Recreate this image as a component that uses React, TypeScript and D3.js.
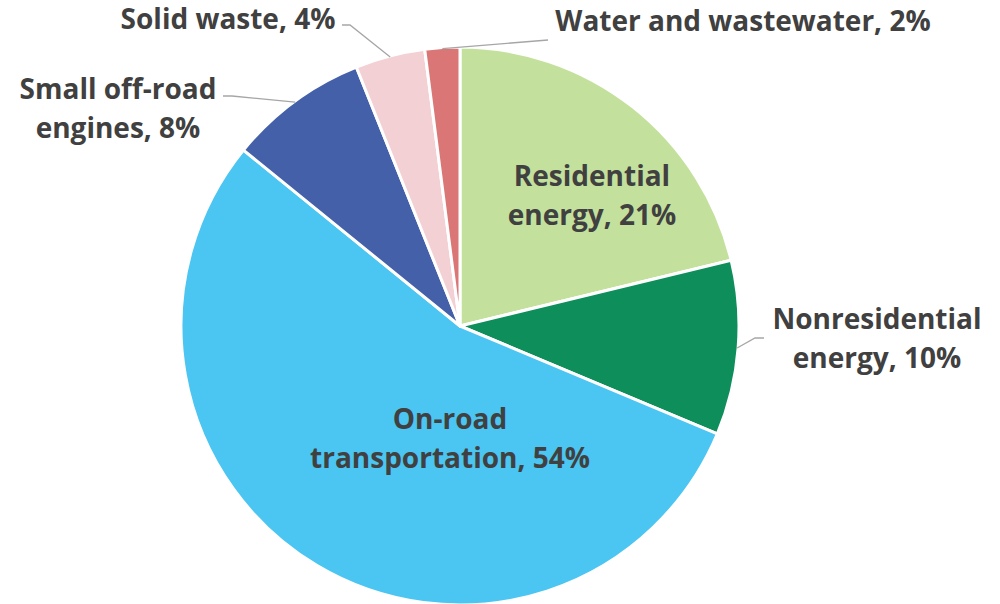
import { useEffect, useRef } from "react";
import * as d3 from "d3";

const categories = [
  "Residential energy",
  "Nonresidential energy",
  "On-road transportation",
  "Small off-road engines",
  "Solid waste",
  "Water and wastewater",
];
const shares = [21, 10, 54, 8, 4, 2];
const colors = ["#c3e19d", "#0e8e5a", "#4bc5f1", "#4360a8", "#f3d0d3", "#db7676"];

const labelLines = [
  ["Residential", "energy, 21%"],
  ["Nonresidential", "energy, 10%"],
  ["On-road", "transportation, 54%"],
  ["Small off-road", "engines, 8%"],
  ["Solid waste, 4%"],
  ["Water and wastewater, 2%"],
];
const labelPos: [number, number][] = [
  [592, 175],
  [877, 318],
  [450, 418],
  [118, 88],
  [228, 18],
  [743, 20],
];
// leader: [elbow x, elbow y, end x] (null = label sits inside its slice)
const leaders: ([number, number, number] | null)[] = [
  null,
  [755, 338, 764],
  null,
  [232, 96, 223],
  [350, 25, 342],
  [548, 40, 548],
];

export default function App() {
  const svgRef = useRef<SVGSVGElement>(null);

  useEffect(() => {
    if (!svgRef.current) return;
    const svg = d3.select(svgRef.current);
    svg.selectAll("*").remove();

    const cx = 460;
    const cy = 326;
    const r = 279;

    const pie = d3
      .pie<number>()
      .sort(null)
      .value((d) => d);
    const arcs = pie(shares);
    const arc = d3.arc<d3.PieArcDatum<number>>().innerRadius(0).outerRadius(r);

    const g = svg.append("g").attr("transform", `translate(${cx},${cy})`);

    g.selectAll("path")
      .data(arcs)
      .enter()
      .append("path")
      .attr("d", arc)
      .attr("fill", (d, i) => colors[i])
      .attr("stroke", "#fff")
      .attr("stroke-width", 3)
      .attr("stroke-linejoin", "round");

    // leader lines
    arcs.forEach((a, i) => {
      const l = leaders[i];
      if (!l) return;
      const mid = (a.startAngle + a.endAngle) / 2;
      const sx = cx + Math.sin(mid) * (r - 1);
      const sy = cy - Math.cos(mid) * (r - 1);
      svg
        .append("polyline")
        .attr("points", `${sx},${sy} ${l[0]},${l[1]} ${l[2]},${l[1]}`)
        .attr("fill", "none")
        .attr("stroke", "#a6a6a6")
        .attr("stroke-width", 1.3);
    });

    // labels
    categories.forEach((c, i) => {
      const [x, y] = labelPos[i];
      const t = svg
        .append("text")
        .attr("x", x)
        .attr("y", y)
        .attr("text-anchor", "middle")
        .attr("dominant-baseline", "central")
        .style("font-family", "'Open Sans', sans-serif")
        .style("font-weight", 700)
        .style("font-size", "28px")
        .style("fill", "#404040")
        .attr("data-cat", c);
      labelLines[i].forEach((line, k) => {
        t.append("tspan")
          .attr("x", x)
          .attr("dy", k === 0 ? 0 : 39)
          .text(line);
      });
    });
  }, []);

  return (
    <svg
      ref={svgRef}
      width={1000}
      height={604}
      style={{ display: "block", position: "absolute", left: 0, top: 0, background: "#fff" }}
    />
  );
}
